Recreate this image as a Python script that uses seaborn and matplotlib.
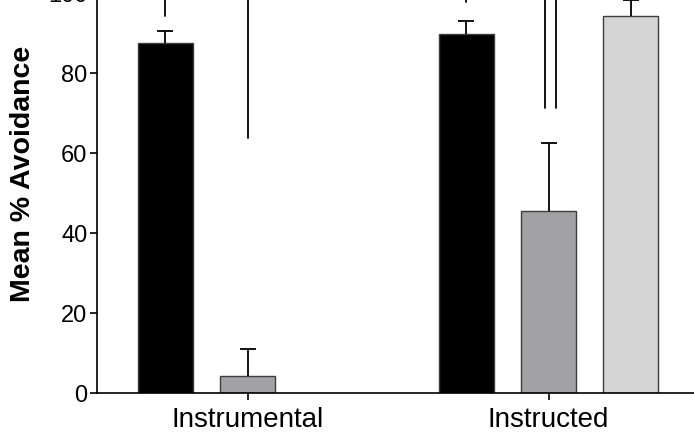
import seaborn as sns
import matplotlib.pyplot as plt
import pandas as pd

# data
tasks = ["Instrumental", "Instructed"]
groups = ["Group 1", "Group 2", "Group 3"]
bar_task = ["Instrumental", "Instrumental", "Instructed", "Instructed", "Instructed"]
bar_group = ["Group 1", "Group 2", "Group 1", "Group 2", "Group 3"]
bar_mean = [87.7, 4.3, 89.9, 45.7, 94.4]
bar_err = [2.9, 6.8, 3.3, 17.0, 4.0]
colors = ["#000000", "#a2a1a5", "#d4d4d4"]

# significance bracket legs (task, group, lower end, horizontal offset)
bracket_task = ["Instrumental", "Instrumental", "Instructed", "Instructed", "Instructed"]
bracket_group = ["Group 1", "Group 2", "Group 1", "Group 2", "Group 2"]
bracket_low = [94.3, 63.8, 97.8, 71.3, 71.3]
bracket_off = [0.0, 0.0, 0.0, -0.011, 0.025]

df = pd.DataFrame({"task": bar_task, "group": bar_group,
                   "avoid": bar_mean, "err": bar_err})

sns.set_style("ticks")
plt.rcParams["font.family"] = ["Liberation Sans", "DejaVu Sans"]
plt.rcParams["text.color"] = "black"
plt.rcParams["axes.labelcolor"] = "black"
plt.rcParams["xtick.color"] = "black"
plt.rcParams["ytick.color"] = "black"

fig = plt.figure(figsize=(6.94, 4.38), dpi=100)
ax = fig.add_axes([97 / 694, (438 - 393.3) / 438, 602 / 694, 400 / 438])

sns.barplot(data=df, x="task", y="avoid", hue="group", order=tasks,
            hue_order=groups, palette=colors, width=0.82, gap=0.33,
            edgecolor="#3c3c3c", linewidth=1.0, errorbar=None,
            legend=False, ax=ax)

# bar centres from the drawn patches
centres = {}
for p in ax.patches:
    cx = p.get_x() + p.get_width() / 2
    h = p.get_height()
    for t, g, m in zip(bar_task, bar_group, bar_mean):
        if abs(h - m) < 1e-6:
            centres[(t, g)] = cx

# upper-only error bars (no cap at the bar top)
for t, g, m, e in zip(bar_task, bar_group, bar_mean, bar_err):
    eb = ax.errorbar(centres[(t, g)], m, yerr=[[0], [e]], fmt="none",
                     ecolor="black", elinewidth=1.3, capsize=5.5,
                     capthick=1.3, zorder=3, clip_on=False)
    for cl in eb[1]:
        if cl.get_ydata()[0] <= m + 1e-9:
            cl.set_visible(False)

for t, g, lo, off in zip(bracket_task, bracket_group, bracket_low, bracket_off):
    x = centres[(t, g)] + off
    ax.plot([x, x], [lo, 125], color="black", lw=1.3, clip_on=False)

ax.set_xlim(-0.5, 1.5)
ax.set_ylim(0, 100)
ax.set_yticks([0, 20, 40, 60, 80, 100])
ax.set_xlabel("")
ax.set_ylabel("Mean % Avoidance", fontsize=20.5, fontweight="bold")
ax.yaxis.set_label_coords(-0.101, 0.548)
ax.tick_params(axis="both", length=5, width=1.2, color="black")
ax.tick_params(axis="y", labelsize=17, pad=2)
ax.tick_params(axis="x", labelsize=20, pad=5)
for s in ["left", "bottom"]:
    ax.spines[s].set_linewidth(1.2)
    ax.spines[s].set_color("black")
sns.despine(ax=ax)

plt.savefig("out.png", dpi=100)
